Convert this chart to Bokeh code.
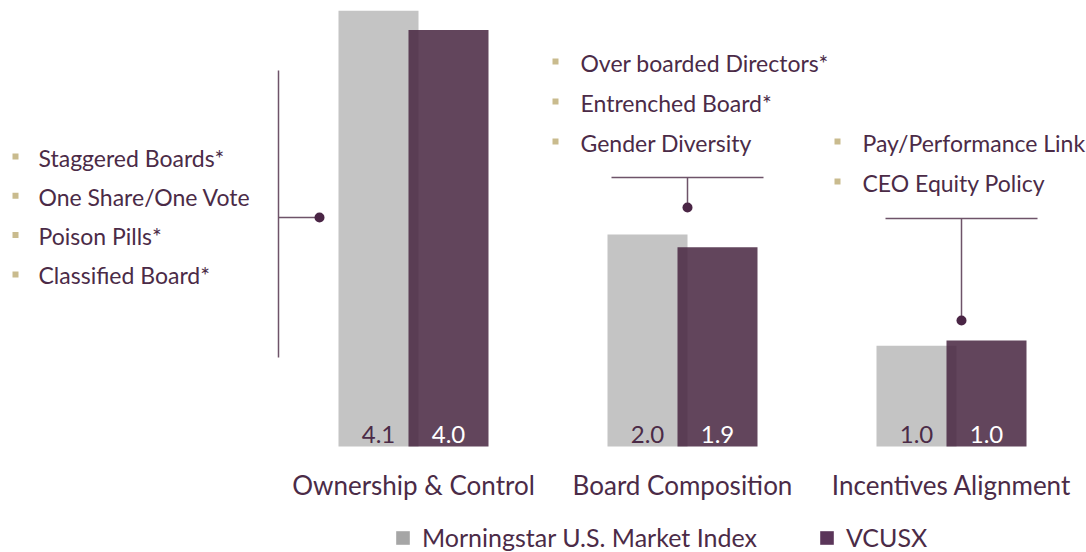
from bokeh.plotting import figure
from bokeh.models import Range1d, ColumnDataSource, Legend, LegendItem
from bokeh.core.properties import value
from bokeh.embed import file_html
from bokeh.resources import INLINE
import numpy as np

# ---------------- data ----------------
categories = ["Ownership & Control", "Board Composition", "Incentives Alignment"]
index_name = "Morningstar U.S. Market Index"
fund_name = "VCUSX"
index_values = [4.11, 2.00, 0.95]
fund_values = [3.93, 1.88, 1.00]
index_labels = ["4.1", "2.0", "1.0"]
fund_labels = ["4.0", "1.9", "1.0"]

ownership_items = ["Staggered Boards*", "One Share/One Vote", "Poison Pills*", "Classified Board*"]
board_items = ["Over boarded Directors*", "Entrenched Board*", "Gender Diversity"]
incentive_items = ["Pay/Performance Link", "CEO Equity Policy"]

# ---------------- styles / layout ----------------
W, H = 1086, 552
PX_PER_X = 269.0      # pixels per category step
X0_PX = 413.0         # pixel of first category centre
PX_PER_Y = 106.0      # pixels per score unit
BASE_PX = 446.0       # pixel (from top) of zero baseline

def px2x(px):
    return (px - X0_PX) / PX_PER_X

def px2y(py):
    return (BASE_PX - py) / PX_PER_Y

TEXT = "#4b2b47"
GRAY = "#a6a6a6"
PURPLE = "#482641"
LEG_PURPLE = "#5a3559"
LINE = "#6e5369"
DOT = "#4a2545"
BULLET = "#c9bb8e"
FONT = value("Lato")

p = figure(width=W, height=H, output_backend="svg", toolbar_location=None,
           x_range=Range1d(px2x(0), px2x(W)), y_range=Range1d(px2y(H), px2y(0)),
           min_border=0)
p.axis.visible = False
p.grid.visible = False
p.outline_line_color = None
p.background_fill_color = None
p.border_fill_color = "white"

n = len(categories)
idx = np.arange(n)
bw = 80 / PX_PER_X
off = 35 / PX_PER_X

src = ColumnDataSource(dict(
    xg=idx - off, xf=idx + off, g=index_values, f=fund_values,
    gl=index_labels, fl=fund_labels, cat=categories, cx=idx,
))

rg = p.vbar(x="xg", top="g", bottom=0, width=bw, source=src,
            fill_color=GRAY, fill_alpha=0.66, line_color=None)
rf = p.vbar(x="xf", top="f", bottom=0, width=bw, source=src,
            fill_color=PURPLE, fill_alpha=0.86, line_color=None)

# legend swatches (undrawn NaN point, used only for legend colour)
lg = p.vbar(x=[np.nan], top=[np.nan], width=bw, fill_color=GRAY, line_color=None)
lf = p.vbar(x=[np.nan], top=[np.nan], width=bw, fill_color=LEG_PURPLE, line_color=None)

# value labels at bar bottoms
lab_y = px2y(434)
p.text(x="xg", y=lab_y, text="gl", source=src, text_align="center", text_baseline="middle",
       text_font=FONT, text_font_size="24px", text_color=TEXT)
p.text(x="xf", y=lab_y, text="fl", source=src, text_align="center", text_baseline="middle",
       text_font=FONT, text_font_size="24px", text_color="white")

# category labels
p.text(x="cx", y=px2y(484), text="cat", source=src, text_align="center",
       text_baseline="middle", text_font=FONT, text_font_size="26px", text_color=TEXT)

# bullet lists
def bullet_list(items, x_bullet, x_text, y_first, step):
    ys = [px2y(y_first + i * step) for i in range(len(items))]
    p.text(x=[px2x(x_text)] * len(items), y=ys, text=items, text_baseline="middle",
           text_font=FONT, text_font_size="23px", text_color=TEXT)
    p.scatter(x=[px2x(x_bullet)] * len(items), y=[y + 1.0 / PX_PER_Y for y in ys],
              marker="square", size=6, fill_color=BULLET, line_color=None)

bullet_list(ownership_items, 15, 38, 157, 39.3)
bullet_list(board_items, 555, 580, 62, 40)
bullet_list(incentive_items, 837, 862, 142, 40)

# connectors
# left bracket (ownership)
p.segment(x0=[px2x(278)], y0=[px2y(70)], x1=[px2x(278)], y1=[px2y(357)],
          line_color=LINE, line_width=1.5)
p.segment(x0=[px2x(278)], y0=[px2y(217)], x1=[px2x(319)], y1=[px2y(217)],
          line_color=LINE, line_width=1.5)
p.scatter(x=[px2x(319)], y=[px2y(217)], size=10, fill_color=DOT, line_color=None)
# board composition
p.segment(x0=[px2x(611)], y0=[px2y(177)], x1=[px2x(763)], y1=[px2y(177)],
          line_color=LINE, line_width=1.5)
p.segment(x0=[px2x(687)], y0=[px2y(177)], x1=[px2x(687)], y1=[px2y(207)],
          line_color=LINE, line_width=1.5)
p.scatter(x=[px2x(687)], y=[px2y(207)], size=10, fill_color=DOT, line_color=None)
# incentives
p.segment(x0=[px2x(885)], y0=[px2y(218)], x1=[px2x(1037)], y1=[px2y(218)],
          line_color=LINE, line_width=1.5)
p.segment(x0=[px2x(961)], y0=[px2y(218)], x1=[px2x(961)], y1=[px2y(320)],
          line_color=LINE, line_width=1.5)
p.scatter(x=[px2x(961)], y=[px2y(320)], size=10, fill_color=DOT, line_color=None)

legend = Legend(items=[LegendItem(label=index_name, renderers=[lg]),
                       LegendItem(label=fund_name, renderers=[lf])],
                location=(394, 0), orientation="horizontal",
                glyph_width=17, glyph_height=17, label_height=17,
                label_text_font="Lato", label_text_font_size="25px",
                label_text_color=TEXT, label_standoff=11, spacing=61,
                padding=0, margin=0, border_line_color=None,
                background_fill_alpha=0)
p.add_layout(legend)

open("out.html", "w").write(file_html(p, INLINE))
